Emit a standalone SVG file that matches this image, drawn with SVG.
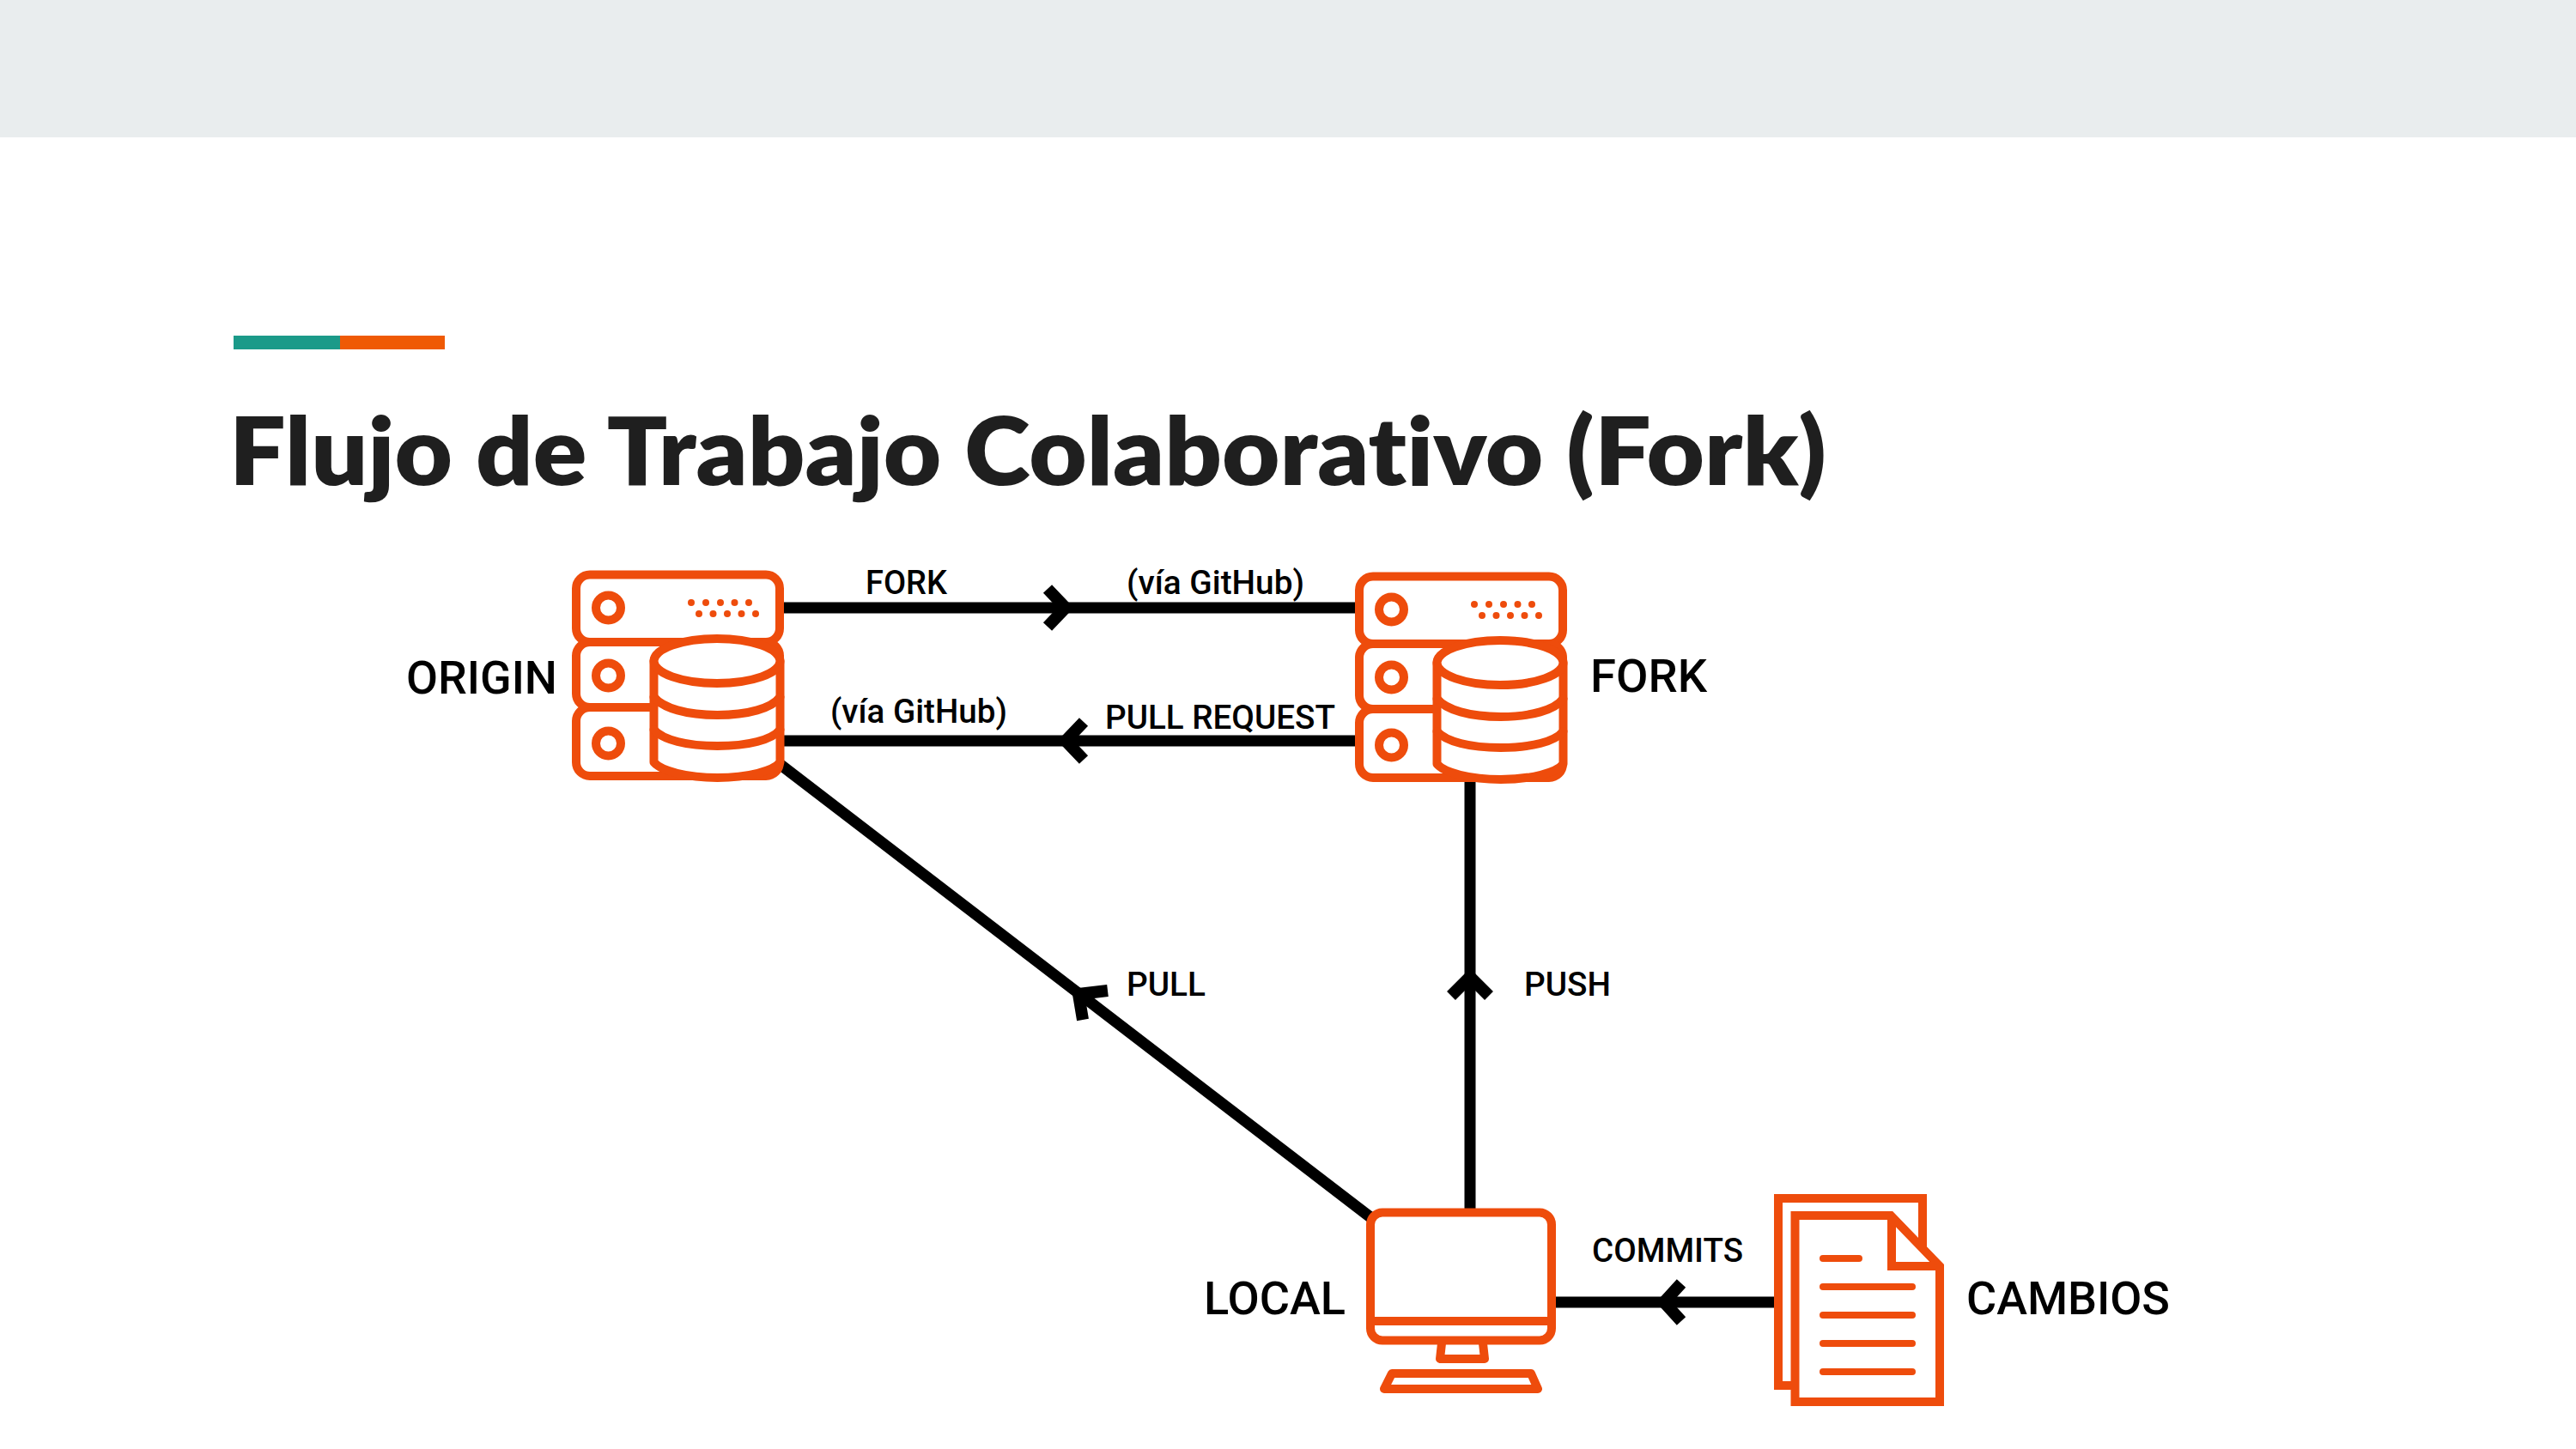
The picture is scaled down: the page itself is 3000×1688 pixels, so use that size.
<svg xmlns="http://www.w3.org/2000/svg" width="3000" height="1688" viewBox="0 0 3000 1688">
<style>
.ic{fill:none;stroke:#ee4c0c;stroke-width:10;stroke-linejoin:round;stroke-linecap:round}
.icw{fill:#fff;stroke:#ee4c0c;stroke-width:10;stroke-linejoin:round}
.dot{fill:#ee4c0c}
.ln{fill:none;stroke:#000;stroke-width:13}
.ah{fill:none;stroke:#000;stroke-width:14;stroke-linejoin:round}
.s{font-family:Roboto,"Liberation Sans",sans-serif;font-size:38px;font-weight:500;fill:#000}
.b{font-family:Roboto,"Liberation Sans",sans-serif;font-size:54px;font-weight:500;fill:#000}
.t{font-family:Lato,"Open Sans",sans-serif;font-size:110px;font-weight:800;fill:#1f1f1f;font-variant-ligatures:none}
</style>
<defs>
<g id="server">
<rect class="icw" x="671" y="669.500" width="237" height="78.500" rx="16"/>
<rect class="icw" x="671" y="748" width="237" height="76" rx="16"/>
<rect class="icw" x="671" y="824" width="237" height="80" rx="16"/>
<circle class="ic" cx="708.500" cy="708" r="14.500"/>
<circle class="ic" cx="708.500" cy="787" r="14.500"/>
<circle class="ic" cx="708.500" cy="866" r="14.500"/>
<g class="dot">
<circle cx="805" cy="702" r="4"/><circle cx="822" cy="702" r="4"/><circle cx="839" cy="702" r="4"/><circle cx="855.500" cy="702" r="4"/><circle cx="872" cy="702" r="4"/>
<circle cx="814" cy="715" r="4"/><circle cx="830.500" cy="715" r="4"/><circle cx="847" cy="715" r="4"/><circle cx="863.500" cy="715" r="4"/><circle cx="880" cy="715" r="4"/>
</g>
<path class="icw" d="M761.500,770 V888 C770,898 800,906 835.500,906 C871,906 901,898 908.500,888 V770 Z"/>
<ellipse class="icw" cx="835" cy="770" rx="73.500" ry="26"/>
<path class="ic" d="M761.500,812 C772,825 800,833 835.500,833 C871,833 899,825 908.500,812"/>
<path class="ic" d="M761.500,850 C772,862 800,869 835.500,869 C871,869 899,862 908.500,850"/>
</g>
</defs>
<rect id="banda" x="0" y="0" width="3000" height="160" fill="#e9edee"/>
<rect x="272" y="391" width="124" height="16" fill="#1b9a89"/>
<rect x="396" y="391" width="122" height="16" fill="#ef5a05"/>
<text class="t" x="267" y="565" textLength="1860" lengthAdjust="spacingAndGlyphs">Flujo de Trabajo Colaborativo (Fork)</text>
<g id="connectors">
<path class="ln" d="M908,708 H1582"/>
<path class="ah" d="M1220,686 L1241,708 L1220,730"/>
<text class="s" x="1008" y="692" textLength="95" lengthAdjust="spacingAndGlyphs">FORK</text>
<text class="s" x="1312" y="692" textLength="207" lengthAdjust="spacingAndGlyphs">(vía GitHub)</text>
<path class="ln" d="M908,863 H1582"/>
<path class="ah" d="M1262,841 L1241,863 L1262,885"/>
<text class="s" x="967" y="842" textLength="206" lengthAdjust="spacingAndGlyphs">(vía GitHub)</text>
<text class="s" x="1287" y="849" textLength="268" lengthAdjust="spacingAndGlyphs">PULL REQUEST</text>
<path class="ln" d="M908,890 L1596,1418"/>
<path class="ah" d="M1290,1154 L1256,1158 L1261,1188"/>
<text class="s" x="1312" y="1160" textLength="92" lengthAdjust="spacingAndGlyphs">PULL</text>
<path class="ln" d="M1712,908 V1412"/>
<path class="ah" d="M1690,1160 L1712,1138 L1734,1160"/>
<text class="s" x="1775" y="1160" textLength="101" lengthAdjust="spacingAndGlyphs">PUSH</text>
<path class="ln" d="M1806,1517 H2068"/>
<path class="ah" d="M1958,1495 L1938,1517 L1958,1539"/>
<text class="s" x="1854" y="1470" textLength="176" lengthAdjust="spacingAndGlyphs">COMMITS</text>
</g>
<g id="origin">
<use href="#server"/>
<text class="b" x="473" y="808" textLength="176" lengthAdjust="spacingAndGlyphs">ORIGIN</text>
</g>
<g id="fork">
<use href="#server" x="912" y="2"/>
<text class="b" x="1852" y="806" textLength="136" lengthAdjust="spacingAndGlyphs">FORK</text>
</g>
<g id="local">
<rect class="icw" x="1596" y="1412.500" width="211" height="149" rx="14"/>
<path class="ln" style="stroke:#ee4c0c;stroke-width:10" d="M1596,1539 H1806"/>
<path class="ic" d="M1679,1565 L1677,1583 H1729 L1727,1565"/>
<path class="ic" d="M1621,1600 H1783 L1791,1618 H1612 Z"/>
<text class="b" x="1402" y="1531" textLength="165" lengthAdjust="spacingAndGlyphs">LOCAL</text>
</g>
<g id="cambios">
<path class="ic" style="stroke-linecap:butt;stroke-linejoin:miter" d="M2090,1614 H2071 V1396 H2239 V1470"/>
<path class="icw" style="stroke-linejoin:miter" d="M2090.500,1416 H2202 L2259,1475 V1633 H2090.500 Z"/>
<path class="ic" style="stroke-linecap:butt;stroke-linejoin:miter" d="M2203,1416 V1475 H2259"/>
<path class="ic" style="stroke-width:8" d="M2123,1466 H2165 M2123,1499 H2227 M2123,1532 H2227 M2123,1565 H2227 M2123,1598 H2227"/>
<text class="b" x="2290" y="1531" textLength="237" lengthAdjust="spacingAndGlyphs">CAMBIOS</text>
</g>
</svg>
